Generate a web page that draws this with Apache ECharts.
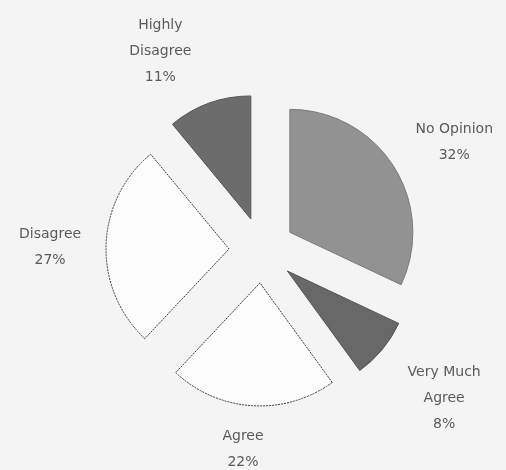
<!DOCTYPE html>
<html>
<head>
<meta charset="utf-8">
<script src="https://cdn.jsdelivr.net/npm/echarts@6/dist/echarts.min.js"></script>
<style>
html,body{margin:0;padding:0;background:#f4f4f4;}
#c{width:506px;height:470px;}
</style>
</head>
<body>
<div id="c"></div>
<script>
const categories = ['No Opinion', 'Very Much Agree', 'Agree', 'Disagree', 'Highly Disagree'];
const labelNames = ['No Opinion', 'Very Much\nAgree', 'Agree', 'Disagree', 'Highly\nDisagree'];
const percentValues = [32, 8, 22, 27, 11];
const sliceColors = ['#929292', '#686868', '#fcfcfc', '#fcfcfc', '#6c6c6c'];
const borderColors = ['#7a7a7a', '#555', '#3a3a3a', '#3a3a3a', '#555'];
// label nudges (layout only)
const labelOffsets = [[26, -5], [30, 27], [-2, 9], [-16, 3], [-32, -19]];

const chart = echarts.init(document.getElementById('c'), null, {renderer: 'canvas'});
const data = categories.map((name, i) => ({
  name: name,
  value: percentValues[i],
  selected: true,
  itemStyle: {
    color: sliceColors[i], borderColor: borderColors[i], borderWidth: 1,
    borderType: (i === 2 || i === 3) ? [2, 1] : 'solid'
  },
  label: {formatter: labelNames[i] + '\n' + percentValues[i] + '%'}
}));

chart.setOption({
  backgroundColor: '#f4f4f4',
  animation: false,
  series: [{
    type: 'pie',
    center: [262, 250],
    radius: [0, 123],
    startAngle: 90,
    clockwise: true,
    selectedMode: 'multiple',
    selectedOffset: 33,
    emphasis: {disabled: true},
    label: {
      show: true,
      position: 'outside',
      color: '#5a5a5a',
      fontFamily: 'DejaVu Sans, sans-serif',
      fontSize: 14,
      lineHeight: 26,
      align: 'center'
    },
    labelLine: {show: false, length: 35, length2: 0},
    labelLayout: function (p) {
      const o = labelOffsets[p.dataIndex];
      return {align: 'center', dx: o[0], dy: o[1]};
    },
    data: data
  }]
});
</script>
</body>
</html>
